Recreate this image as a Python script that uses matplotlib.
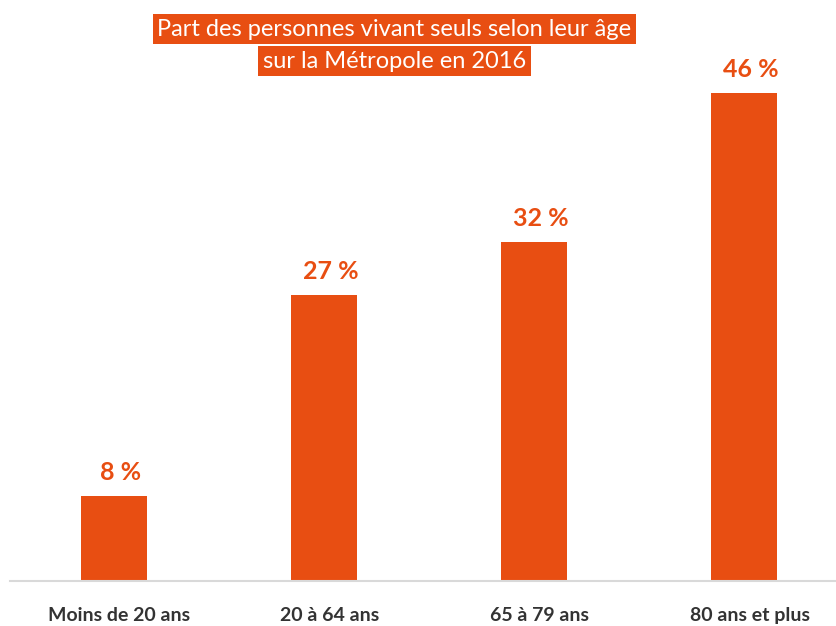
import matplotlib
matplotlib.use("Agg")
import matplotlib.pyplot as plt

categories = ["Moins de 20 ans", "20 à 64 ans", "65 à 79 ans", "80 ans et plus"]
values = [8, 27, 32, 46]
value_labels = ["8 %", "27 %", "32 %", "46 %"]
title_lines = ["Part des personnes vivant seuls selon leur âge", "sur la Métropole en 2016"]

ORANGE = "#E84E12"
plt.rcParams['font.family'] = ['Lato', 'DejaVu Sans']

W, H = 837, 626
fig = plt.figure(figsize=(W / 100, H / 100), dpi=100)
ax_left = 10 / W
ax_bottom = (H - 581) / H
ax_top_px = 30
ax = fig.add_axes([ax_left, ax_bottom, 1 - ax_left, (581 - ax_top_px) / H])
x = list(range(len(categories)))
ax.bar(x, values, width=0.314, color=ORANGE, zorder=2)
ax.set_xlim(-(114 - 10) / 210, 3 + (837 - 744) / 210)
ax.set_ylim(0, (581 - ax_top_px) / 10.6)
for s in ["top", "right", "left"]:
    ax.spines[s].set_visible(False)
ax.spines["bottom"].set_color("#D9D9D9")
ax.spines["bottom"].set_linewidth(1.5)
ax.set_yticks([])
ax.set_xticks(x)
ax.set_xticklabels([])
ax.tick_params(axis="x", length=0)

for xi, v, lab in zip(x, values, value_labels):
    ax.annotate(lab, (xi, v), xytext=(5, 17), textcoords="offset points",
                ha="center", va="center", color=ORANGE, fontsize=18, fontweight="bold")
for xi, cat in zip(x, categories):
    ax.annotate(cat, (xi, 0), xytext=(4, -25), textcoords="offset points",
                ha="center", va="center", color="#333333", fontsize=14, fontweight="bold",
                annotation_clip=False)

fig.text(394.5 / W, 1 - 29 / H, title_lines[0], ha="center", va="center", color="white",
         fontsize=17, bbox=dict(boxstyle="square,pad=0.2", fc=ORANGE, ec="none"))
fig.text(394.5 / W, 1 - 61 / H, title_lines[1], ha="center", va="center", color="white",
         fontsize=17, bbox=dict(boxstyle="square,pad=0.2", fc=ORANGE, ec="none"))

fig.savefig("out.png", dpi=100)
